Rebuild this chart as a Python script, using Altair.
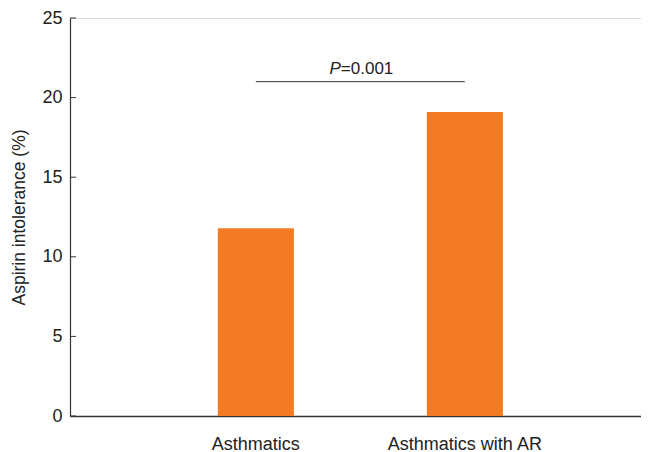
import altair as alt
import pandas as pd

categories = ["Asthmatics", "Asthmatics with AR"]
values = [11.8, 19.1]
y_ticks = [0, 5, 10, 15, 20, 25]
sig_label_p = "P"
sig_label_rest = "=0.001"
sig_level = 21.0

FONT = "Liberation Sans, Arial, sans-serif"
ORANGE = "#F47A24"
DARK = "#333333"
TXT = "#222222"

bars_df = pd.DataFrame({"group": categories, "value": values})
ticks_df = pd.DataFrame({"t": y_ticks})
sig_df = pd.DataFrame({"start": [categories[0]], "end": [categories[1]], "y": [sig_level]})

xscale = alt.Scale(domain=categories, paddingInner=0.636, paddingOuter=0.684, align=0.517)
yscale = alt.Scale(domain=[0, 25], nice=False)

bars = alt.Chart(bars_df).mark_bar(color=ORANGE).encode(
    x=alt.X("group:N", scale=xscale, sort=categories,
            axis=alt.Axis(title=None, labelAngle=0, ticks=False, domain=True,
                          domainColor=DARK, domainWidth=1.5, labelFont=FONT,
                          labelFontSize=18, labelColor=TXT, labelPadding=19)),
    y=alt.Y("value:Q", scale=yscale,
            axis=alt.Axis(title="Aspirin intolerance (%)", values=y_ticks, ticks=False,
                          grid=False, domainColor=DARK, domainWidth=1.2,
                          labelFont=FONT, labelFontSize=18, labelColor=TXT,
                          labelPadding=8, titleFont=FONT, titleFontSize=17.5,
                          titleFontWeight="normal", titleColor=TXT, titlePadding=13)),
)

tick_marks = alt.Chart(ticks_df).mark_rule(color=DARK, strokeWidth=1).encode(
    x=alt.value(0), x2=alt.value(6), y=alt.Y("t:Q", scale=yscale)
)

sig_line = alt.Chart(sig_df).mark_rule(color=DARK, strokeWidth=1).encode(
    x=alt.X("start:N", scale=xscale, sort=categories),
    x2="end:N",
    y=alt.Y("y:Q", scale=yscale),
)

sig_p = alt.Chart(sig_df).mark_text(
    text=sig_label_p, font=FONT, fontSize=17, fontStyle="italic", align="right",
    baseline="alphabetic", dx=85, dy=-8, color=TXT
).encode(x=alt.X("start:N", scale=xscale, sort=categories), y=alt.Y("y:Q", scale=yscale))

sig_rest = alt.Chart(sig_df).mark_text(
    text=sig_label_rest, font=FONT, fontSize=17, align="left",
    baseline="alphabetic", dx=85, dy=-8, color=TXT
).encode(x=alt.X("start:N", scale=xscale, sort=categories), y=alt.Y("y:Q", scale=yscale))

chart = alt.layer(bars, tick_marks, sig_line, sig_p, sig_rest).properties(
    width=571, height=398,
    autosize=alt.AutoSizeParams(type="none"),
    padding={"left": 62, "top": 10, "right": 0, "bottom": 40},
).configure_view(stroke=None).configure(background="white")

chart.save("out.html", embed_options={"renderer": "svg", "actions": False})
